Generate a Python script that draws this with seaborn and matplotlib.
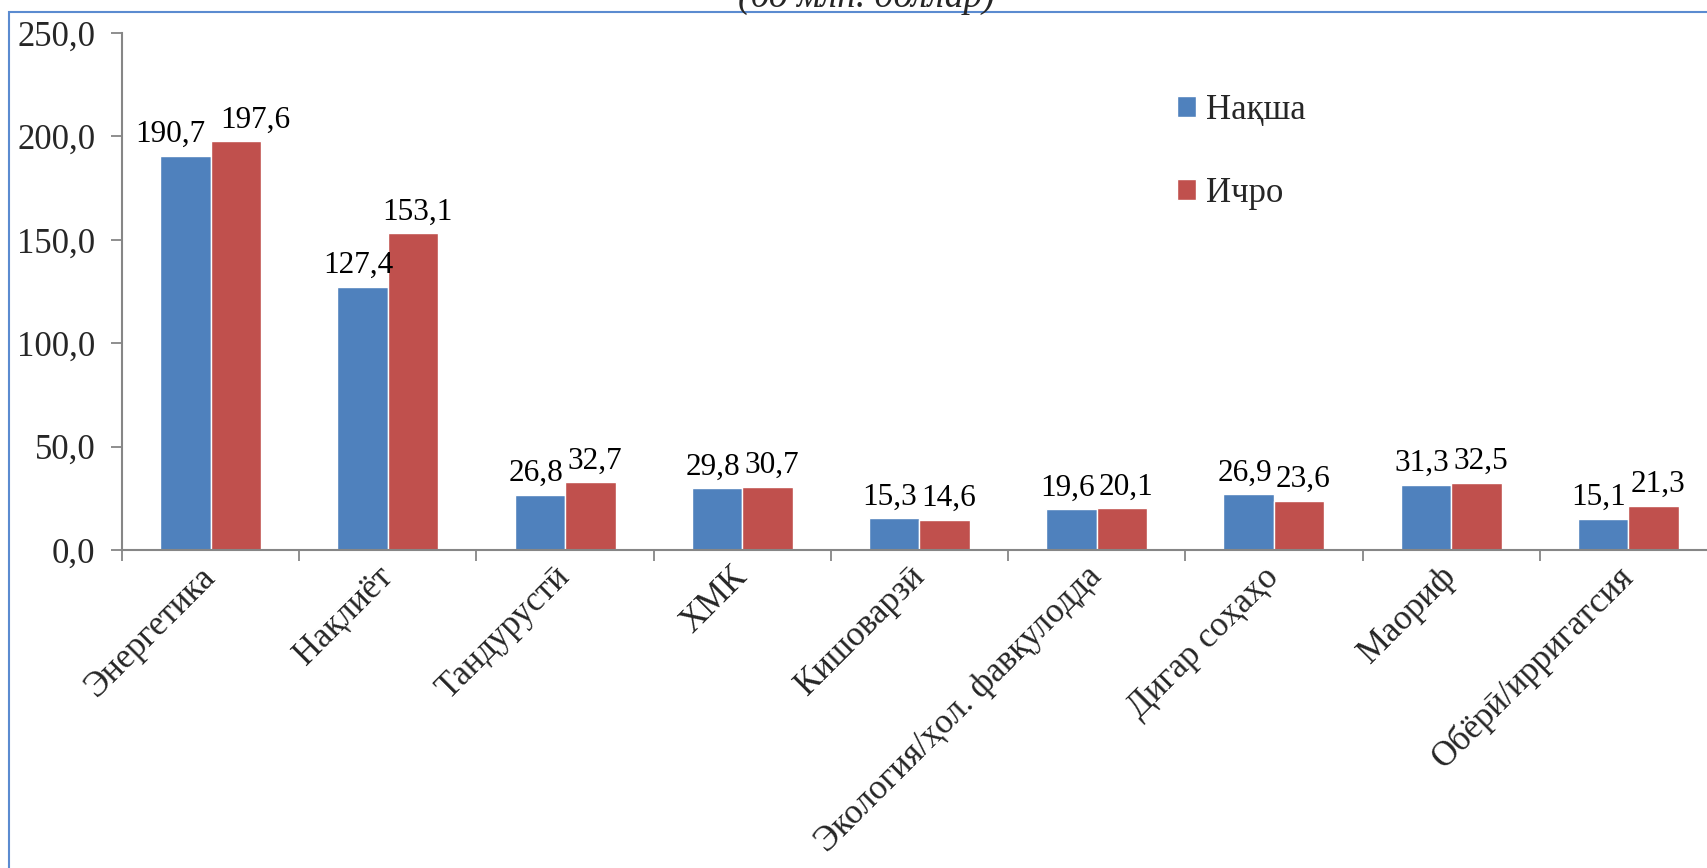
import pandas as pd
import matplotlib
matplotlib.use("Agg")
import matplotlib.pyplot as plt
from matplotlib.patches import Rectangle
import seaborn as sns

# data
categories = ["Энергетика", "Нақлиёт", "Тандурустӣ", "ХМК", "Кишоварзӣ",
              "Экология/ҳол. фавқулодда", "Дигар соҳаҳо", "Маориф", "Обёрӣ/ирригатсия"]
plan = [190.7, 127.4, 26.8, 29.8, 15.3, 19.6, 26.9, 31.3, 15.1]
actual = [197.6, 153.1, 32.7, 30.7, 14.6, 20.1, 23.6, 32.5, 21.3]
series_names = ["Нақша", "Ичро"]
y_ticks = [0, 50, 100, 150, 200, 250]
subtitle = "(бо млн. доллар)"

colors = ["#4F81BD", "#C0504D"]
axis_gray = "#868686"

sns.set_theme(style="white")
plt.rcParams["font.family"] = ["Liberation Serif", "DejaVu Serif"]

df = pd.DataFrame({
    "category": categories * 2,
    "value": plan + actual,
    "series": [series_names[0]] * len(categories) + [series_names[1]] * len(categories),
})

fig = plt.figure(figsize=(17.08, 8.68), dpi=100)
ax = fig.add_axes([122 / 1708, 318 / 868, 1595 / 1708, 517 / 868])

sns.barplot(data=df, x="category", y="value", hue="series", hue_order=series_names,
            palette=colors, width=0.57, saturation=1, ax=ax, legend=True)

for k, cont in enumerate(ax.containers):
    labels = [f"{v:.1f}".replace(".", ",") for v in cont.datavalues]
    anns = ax.bar_label(cont, labels=labels, padding=5, fontsize=22.5, color="black")
    # push paired labels apart a little so they don't collide
    for i, a in enumerate(anns):
        if i == 0:
            dx = -11 if k == 0 else 14
        else:
            dx = -3 if k == 0 else 3
        a.xyann = (dx, a.xyann[1])

ax.set_xlim(-0.5, len(categories) - 0.5)
ax.set_ylim(0, 250)
ax.set_yticks(y_ticks)
ax.set_yticklabels([f"{t:.1f}".replace(".", ",") for t in y_ticks], fontsize=25)
ax.set_xlabel("")
ax.set_ylabel("")

# category boundary ticks on x axis
ax.set_xticks([i - 0.5 for i in range(len(categories) + 1)], minor=True)
ax.tick_params(axis="x", which="minor", length=8, width=1.3, color=axis_gray, direction="out", bottom=True)
ax.tick_params(axis="x", which="major", length=0, pad=16)
ax.tick_params(axis="y", length=8, width=1.3, color=axis_gray, direction="out", left=True, pad=11)
ax.set_xticks(range(len(categories)))
ax.set_xticklabels(categories, rotation=45, ha="right", va="center",
                   rotation_mode="anchor", fontsize=25)

for side in ["top", "right"]:
    ax.spines[side].set_visible(False)
for side in ["left", "bottom"]:
    ax.spines[side].set_color(axis_gray)
    ax.spines[side].set_linewidth(1.5)

leg = ax.legend(loc="upper left", bbox_to_anchor=(1163 / 1708, 1 - 80 / 868),
                bbox_transform=fig.transFigure, frameon=False, fontsize=25,
                handlelength=0.55, handleheight=0.55, handletextpad=0.3,
                labelspacing=1.45, borderaxespad=0)

# cut-off subtitle and chart border
fig.text(866 / 1708, 1 - 7 / 868, subtitle, ha="center", va="baseline",
         fontsize=27, style="italic")
fig.patches.append(Rectangle((9 / 1708, -0.1), 1.2, 1 - 12 / 868 + 0.1,
                             transform=fig.transFigure, fill=False,
                             edgecolor="#5B8BD0", linewidth=1.5))

fig.savefig("out.png", dpi=100)
